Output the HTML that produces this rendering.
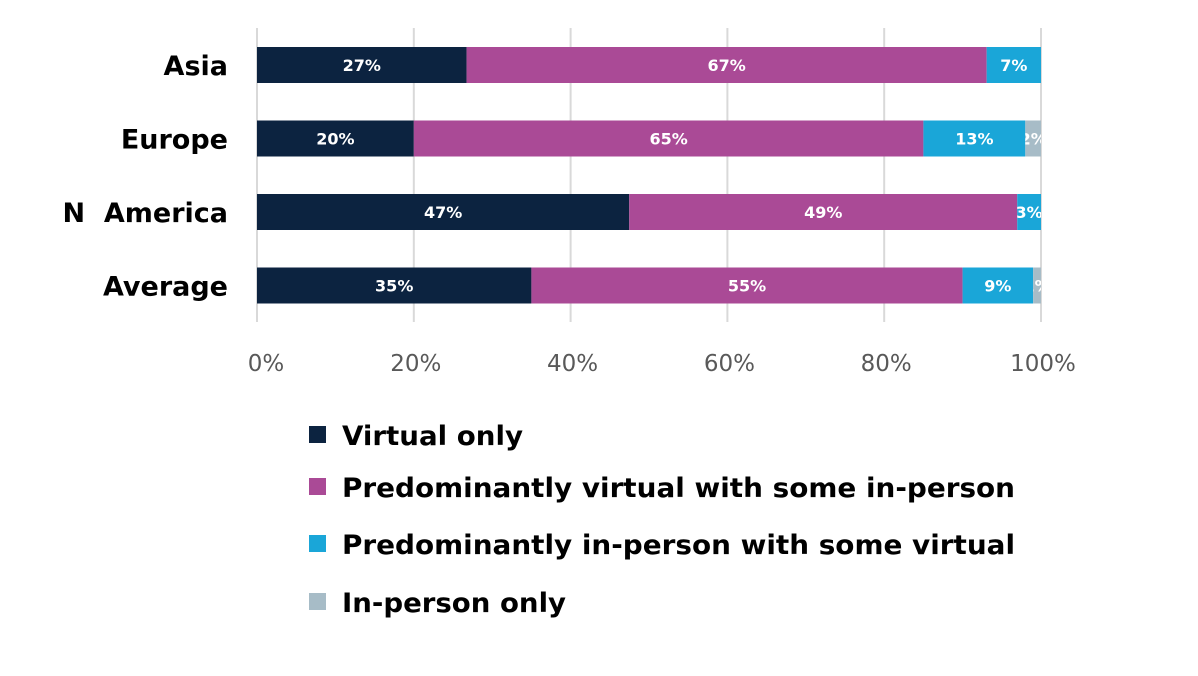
<!DOCTYPE html>
<html><head><meta charset="utf-8"><style>
html,body{margin:0;padding:0;background:#fff;width:1198px;height:676px;overflow:hidden}
text{font-family:"DejaVu Sans","Liberation Sans",sans-serif}
</style></head><body>
<svg id="chart" width="1198" height="676" xmlns="http://www.w3.org/2000/svg"></svg>
<script>
const categories = ["Asia","Europe","N  America","Average"];
const virtualOnly = [27,20,47,35];
const predVirtual = [67,65,49,55];
const predInPerson = [7,13,3,9];
const inPersonOnly = [0,2,0,1];
const tickLabels = ["0%","20%","40%","60%","80%","100%"];
const tickValues = [0,20,40,60,80,100];
const seriesNames = ["Virtual only","Predominantly virtual with some in-person","Predominantly in-person with some virtual","In-person only"];
const colors = ["#0c2340","#aa4a96","#1aa6d8","#a7bcc7"];

const svg = document.getElementById('chart');
const NS = "http://www.w3.org/2000/svg";
const x0 = 257, x1 = 1041;
const xs = v => x0 + (x1 - x0) * v / 100;
const yc = i => 65 + i * 73.5;
const barH = 36;
function mk(tag, attrs){const e=document.createElementNS(NS,tag);for(const k in attrs)e.setAttribute(k,attrs[k]);return e;}

tickValues.forEach((t,i)=>{
  const g = mk('line',{x1:xs(t),x2:xs(t),y1:28,y2:322,stroke:'#d9d9d9','stroke-width':2});
  
  
  svg.appendChild(g);
  const tl = mk('text',{x:xs(t)+(i===0?9:2),y:371,'text-anchor':'middle','font-size':23,fill:'#595959','font-family':'"DejaVu Sans",sans-serif'});
  
  
  tl.textContent = tickLabels[i];
  svg.appendChild(tl);
});

const series = [virtualOnly,predVirtual,predInPerson,inPersonOnly];
categories.forEach((c,i)=>{
  const total = series.reduce((s,a)=>s+a[i],0);
  let acc = 0;
  const cl = mk('text',{x:228,y:yc(i)+10,'text-anchor':'end','font-size':27,'font-weight':'bold',fill:'#000','xml:space':'preserve'});
  
  
  cl.textContent = c;
  cl.style.whiteSpace = 'pre';
  svg.appendChild(cl);
  series.forEach((arr,s)=>{
    const v = arr[i]; if(!v) return;
    const a = xs(acc/total*100), b = xs((acc+v)/total*100);
    acc += v;
    const r = mk('rect',{x:a,y:yc(i)-barH/2,width:b-a,height:barH,fill:colors[s]});
    
    
    svg.appendChild(r);
    const cid = 'c'+i+'_'+s;
    const cp = mk('clipPath',{id:cid});
    cp.appendChild(mk('rect',{x:a,y:yc(i)-barH/2,width:b-a,height:barH}));
    svg.appendChild(cp);
    const t = mk('text',{x:(a+b)/2,y:yc(i)+6,'text-anchor':'middle','font-size':16,'font-weight':'bold',fill:'#fff','clip-path':'url(#'+cid+')','font-family':'"Liberation Sans",sans-serif'});
    
    
    t.textContent = v+'%';
    svg.appendChild(t);
  });
});

const ly = [435,487,544,602];
const lw = [181,673,673,224];
seriesNames.forEach((n,i)=>{
  const sq = mk('rect',{x:309,y:ly[i]-9,width:17,height:17,fill:colors[i]});
  
  
  svg.appendChild(sq);
  const t = mk('text',{x:342,y:ly[i]+10,'font-size':27,'font-weight':'bold',fill:'#000',textLength:lw[i],lengthAdjust:'spacingAndGlyphs'});
  
  
  t.textContent = n;
  svg.appendChild(t);
});
</script>
</body></html>
